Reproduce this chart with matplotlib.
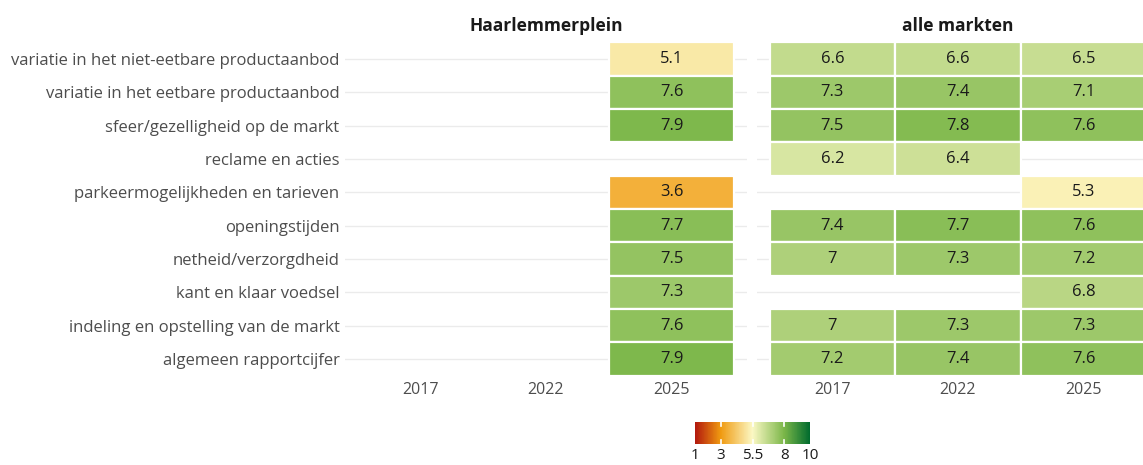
import numpy as np
import matplotlib
matplotlib.use("Agg")
import matplotlib.pyplot as plt
from matplotlib.colors import LinearSegmentedColormap, Normalize
from matplotlib.cm import ScalarMappable

plt.rcParams['font.family'] = ['Open Sans', 'DejaVu Sans']

categories = [
    "variatie in het niet-eetbare productaanbod",
    "variatie in het eetbare productaanbod",
    "sfeer/gezelligheid op de markt",
    "reclame en acties",
    "parkeermogelijkheden en tarieven",
    "openingstijden",
    "netheid/verzorgdheid",
    "kant en klaar voedsel",
    "indeling en opstelling van de markt",
    "algemeen rapportcijfer",
]
years = ["2017", "2022", "2025"]
nan = np.nan
haarlemmerplein = [  # per category: 2017, 2022, 2025
    [nan, nan, 5.1], [nan, nan, 7.6], [nan, nan, 7.9], [nan, nan, nan],
    [nan, nan, 3.6], [nan, nan, 7.7], [nan, nan, 7.5], [nan, nan, 7.3],
    [nan, nan, 7.6], [nan, nan, 7.9],
]
alle_markten = [
    [6.6, 6.6, 6.5], [7.3, 7.4, 7.1], [7.5, 7.8, 7.6], [6.2, 6.4, nan],
    [nan, nan, 5.3], [7.4, 7.7, 7.6], [7.0, 7.3, 7.2], [nan, nan, 6.8],
    [7.0, 7.3, 7.3], [7.2, 7.4, 7.6],
]
panels = ["Haarlemmerplein", "alle markten"]
scale_values = [1, 3, 5.5, 8, 10]
scale_colors = ["#B2180E", "#F09A10", "#FBF8C4", "#7AB648", "#006B2E"]

W, H = 1143, 465
fig = plt.figure(figsize=(W / 100, H / 100), dpi=100)

vmin, vmax = 1, 10
cmap = LinearSegmentedColormap.from_list(
    "rc", [((v - vmin) / (vmax - vmin), c) for v, c in zip(scale_values, scale_colors)])
norm = Normalize(vmin, vmax)

def fx(px):
    return px / W

def fy(py):
    return 1 - py / H

panel_lefts = [345, 757]
pw = 402
top, bottom = 39, 379
grey = "#4D4D4D"

for i, (name, data) in enumerate(zip(panels, [haarlemmerplein, alle_markten])):
    ax = fig.add_axes([fx(panel_lefts[i]), fy(bottom), fx(pw), (bottom - top) / H])
    for r in range(len(categories)):
        ax.axhline(r, color="#EBEBEB", lw=1.0, zorder=0)
    for r in range(len(categories)):
        for c in range(len(years)):
            v = data[r][c]
            if not np.isnan(v):
                ax.bar(c, 1.0, bottom=r - 0.5, width=1.0, color=cmap(norm(v)),
                       edgecolor="white", linewidth=1.6, zorder=1)
                ax.text(c, r, f"{v:g}", ha="center", va="center",
                        fontsize=12, color="#1A1A1A", zorder=2)
    ax.set_xlim(-0.6, 2.6)
    ax.set_ylim(len(categories) - 0.4, -0.6)
    ax.set_xticks(range(len(years)))
    ax.set_xticklabels(years, fontsize=11.5, color=grey)
    ax.set_yticks(range(len(categories)))
    if i == 0:
        ax.set_yticklabels(categories, fontsize=12, color=grey)
    else:
        ax.set_yticklabels([])
    ax.tick_params(length=0, pad=4)
    ax.tick_params(axis="x", pad=2)
    for s in ax.spines.values():
        s.set_visible(False)
    ax.set_title(name, fontsize=12.5, fontweight="bold", color="#1A1A1A", pad=6)

cax = fig.add_axes([fx(695), fy(444), fx(115), 22 / H])
cb = fig.colorbar(ScalarMappable(norm=norm, cmap=cmap), cax=cax, orientation="horizontal")
cb.outline.set_visible(False)
cb.set_ticks(scale_values)
cb.set_ticklabels([f"{v:g}" for v in scale_values])
cax.tick_params(length=0, labelsize=11, labelcolor="#1A1A1A", pad=3)
for v in scale_values[1:-1]:
    cax.plot([v, v], [0, 0.18], color="white", lw=1.2)
    cax.plot([v, v], [0.82, 1], color="white", lw=1.2)

fig.savefig("out.png", dpi=100)
